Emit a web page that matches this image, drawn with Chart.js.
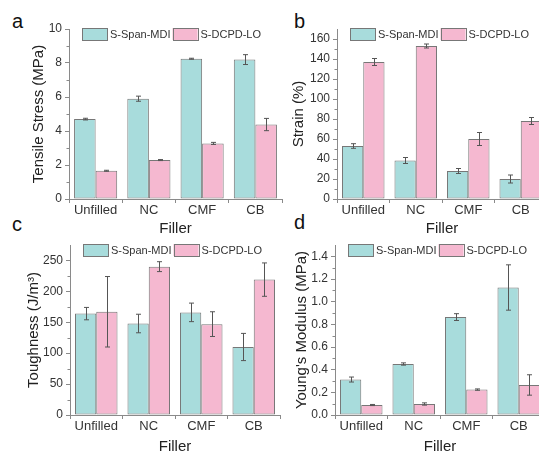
<!DOCTYPE html>
<html>
<head>
<meta charset="utf-8">
<script src="https://cdn.jsdelivr.net/npm/chart.js@4.4.0/dist/chart.umd.min.js"></script>
<style>
  body { margin: 0; background: #fff; width: 539px; height: 454px; overflow: hidden; position: relative; }
  canvas { position: absolute; }
  .tag { position: absolute; font: 20px "Liberation Sans", Arial, sans-serif; line-height: 20px; color: #111; }
</style>
</head>
<body>
<div class="tag" style="left:12px;top:11px">a</div>
<div class="tag" style="left:294px;top:11px">b</div>
<div class="tag" style="left:12px;top:214px">c</div>
<div class="tag" style="left:294px;top:212px">d</div>
<canvas id="stressChart" width="290" height="240" style="left:0;top:0"></canvas>
<canvas id="strainChart" width="270" height="240" style="left:290px;top:0"></canvas>
<canvas id="toughChart" width="290" height="230" style="left:0;top:227px"></canvas>
<canvas id="modulusChart" width="270" height="230" style="left:290px;top:227px"></canvas>
<script>
const fillers = ['Unfilled', 'NC', 'CMF', 'CB'];
const seriesNames = ['S-Span-MDI', 'S-DCPD-LO'];

// tensile stress (MPa)
const stressMDI = [4.70, 5.90, 8.25, 8.20];
const stressMDIErr = [0.05, 0.15, 0.03, 0.29];
const stressLO = [1.66, 2.29, 3.27, 4.38];
const stressLOErr = [0.03, 0.03, 0.06, 0.36];

// strain (%)
const strainMDI = [53, 38.5, 28, 20];
const strainMDIErr = [2.3, 3, 2.5, 4];
const strainLO = [137, 153, 60, 78];
const strainLOErr = [3.5, 2, 6.5, 3.5];

// toughness (J/m3)
const toughMDI = [164, 148, 166, 110];
const toughMDIErr = [10, 15, 15, 22];
const toughLO = [167, 240, 147, 219];
const toughLOErr = [57, 8, 20, 27];

// young's modulus (MPa)
const modMDI = [0.313, 0.450, 0.864, 1.125];
const modMDIErr = [0.022, 0.01, 0.03, 0.2];
const modLO = [0.088, 0.097, 0.224, 0.265];
const modLOErr = [0.005, 0.01, 0.006, 0.09];

const teal = '#a8dcdc';
const pink = '#f5b8d0';
const axisGray = '#8a8a8a';
const fontFamily = '"Liberation Sans", Arial, sans-serif';

const errorBars = {
  id: 'errorBars',
  afterDatasetsDraw(chart) {
    const ctx = chart.ctx;
    const y = chart.scales.y;
    ctx.save();
    ctx.strokeStyle = '#555';
    ctx.lineWidth = 1;
    chart.data.datasets.forEach((ds, i) => {
      chart.getDatasetMeta(i).data.forEach((bar, j) => {
        const top = y.getPixelForValue(ds.data[j] + ds.errors[j]);
        const bot = y.getPixelForValue(ds.data[j] - ds.errors[j]);
        const x = Math.round(bar.x) + 0.5;
        ctx.beginPath();
        ctx.moveTo(x, top); ctx.lineTo(x, bot);
        ctx.moveTo(x - 2.5, top); ctx.lineTo(x + 2.5, top);
        ctx.moveTo(x - 2.5, bot); ctx.lineTo(x + 2.5, bot);
        ctx.stroke();
      });
    });
    ctx.restore();
  }
};

// legend sits inside the plot, top left
const insideLegend = {
  id: 'insideLegend',
  afterDraw(chart) {
    const {ctx, chartArea} = chart;
    let x = chartArea.left + 13;
    const y = chartArea.top - 1;
    ctx.save();
    ctx.font = '11px ' + fontFamily;
    ctx.textBaseline = 'middle';
    chart.data.datasets.forEach(ds => {
      ctx.fillStyle = ds.backgroundColor;
      ctx.fillRect(x, y, 25, 12);
      ctx.strokeStyle = '#777';
      ctx.lineWidth = 1;
      ctx.strokeRect(Math.round(x) + 0.5, y + 0.5, 25, 12);
      ctx.fillStyle = '#333';
      ctx.fillText(ds.label, x + 28, y + 6.5);
      x += 28 + ctx.measureText(ds.label).width + 2;
    });
    ctx.restore();
  }
};

const minorTicks = {
  id: 'minorTicks',
  afterDraw(chart, args, opts) {
    const ctx = chart.ctx;
    const y = chart.scales.y;
    const x0 = chart.chartArea.left;
    ctx.save();
    ctx.strokeStyle = axisGray;
    ctx.lineWidth = 1;
    for (let i = 1; opts.step * i < y.max; i += 2) {
      const py = Math.round(y.getPixelForValue(opts.step * i)) + 0.5;
      ctx.beginPath();
      ctx.moveTo(x0, py);
      ctx.lineTo(x0 - 2.5, py);
      ctx.stroke();
    }
    ctx.restore();
  }
};

function makePanel(id, p) {
  const canvas = document.getElementById(id);
  new Chart(canvas, {
    type: 'bar',
    data: {
      labels: fillers,
      datasets: [{
        label: seriesNames[0],
        data: p.mdi,
        errors: p.mdiErr,
        backgroundColor: teal,
        borderColor: '#777',
        borderWidth: 1,
        borderSkipped: false
      }, {
        label: seriesNames[1],
        data: p.lo,
        errors: p.loErr,
        backgroundColor: pink,
        borderColor: '#777',
        borderWidth: 1,
        borderSkipped: false
      }]
    },
    options: {
      responsive: false,
      animation: false,
      categoryPercentage: 0.81,
      barPercentage: 1,
      layout: { padding: { top: p.top, right: canvas.width - p.right, left: 0, bottom: 0 } },
      plugins: {
        legend: { display: false },
        tooltip: { enabled: false },
        minorTicks: { step: p.step / 2 }
      },
      scales: {
        x: {
          grid: { drawOnChartArea: false, tickLength: 4, color: axisGray, offset: true },
          border: { color: axisGray },
          ticks: { color: '#333', padding: 0, maxRotation: 0, font: { family: fontFamily, size: 13 } },
          title: { display: true, text: 'Filler', color: '#222', font: { family: fontFamily, size: 15 },
                   padding: { top: 0, bottom: p.xTitlePad } },
          afterFit(s) { s.height = canvas.height - p.bottom; }
        },
        y: {
          min: 0,
          max: p.max,
          grid: { drawOnChartArea: false, tickLength: 4, color: axisGray },
          border: { color: axisGray },
          ticks: {
            stepSize: p.step,
            includeBounds: false,
            color: '#333',
            padding: 3,
            font: { family: fontFamily, size: 12 },
            callback: v => p.decimals ? v.toFixed(p.decimals) : v
          },
          title: { display: true, text: p.yTitle, color: '#222', font: { family: fontFamily, size: 15 },
                   padding: { top: p.yTitlePad, bottom: 0 } },
          afterFit(s) { s.width = p.left; }
        }
      }
    },
    plugins: [errorBars, insideLegend, minorTicks]
  });
}

makePanel('stressChart', {
  mdi: stressMDI, mdiErr: stressMDIErr, lo: stressLO, loErr: stressLOErr,
  max: 10, step: 2, yTitle: 'Tensile Stress (MPa)',
  left: 69, right: 282, top: 29, bottom: 199, yTitlePad: 30, xTitlePad: 2
});
makePanel('strainChart', {
  mdi: strainMDI, mdiErr: strainMDIErr, lo: strainLO, loErr: strainLOErr,
  max: 170, step: 20, yTitle: 'Strain (%)',
  left: 47, right: 257, top: 29, bottom: 199, yTitlePad: 0, xTitlePad: 2
});
makePanel('toughChart', {
  mdi: toughMDI, mdiErr: toughMDIErr, lo: toughLO, loErr: toughLOErr,
  max: 275, step: 50, yTitle: 'Toughness (J/m³)',
  left: 70, right: 280, top: 18, bottom: 188, yTitlePad: 25, xTitlePad: 1
});
makePanel('modulusChart', {
  mdi: modMDI, mdiErr: modMDIErr, lo: modLO, loErr: modLOErr,
  max: 1.5, step: 0.2, decimals: 1, yTitle: "Young's Modulus (MPa)",
  left: 45, right: 255, top: 18, bottom: 188, yTitlePad: 3, xTitlePad: 1
});
</script>
</body>
</html>
